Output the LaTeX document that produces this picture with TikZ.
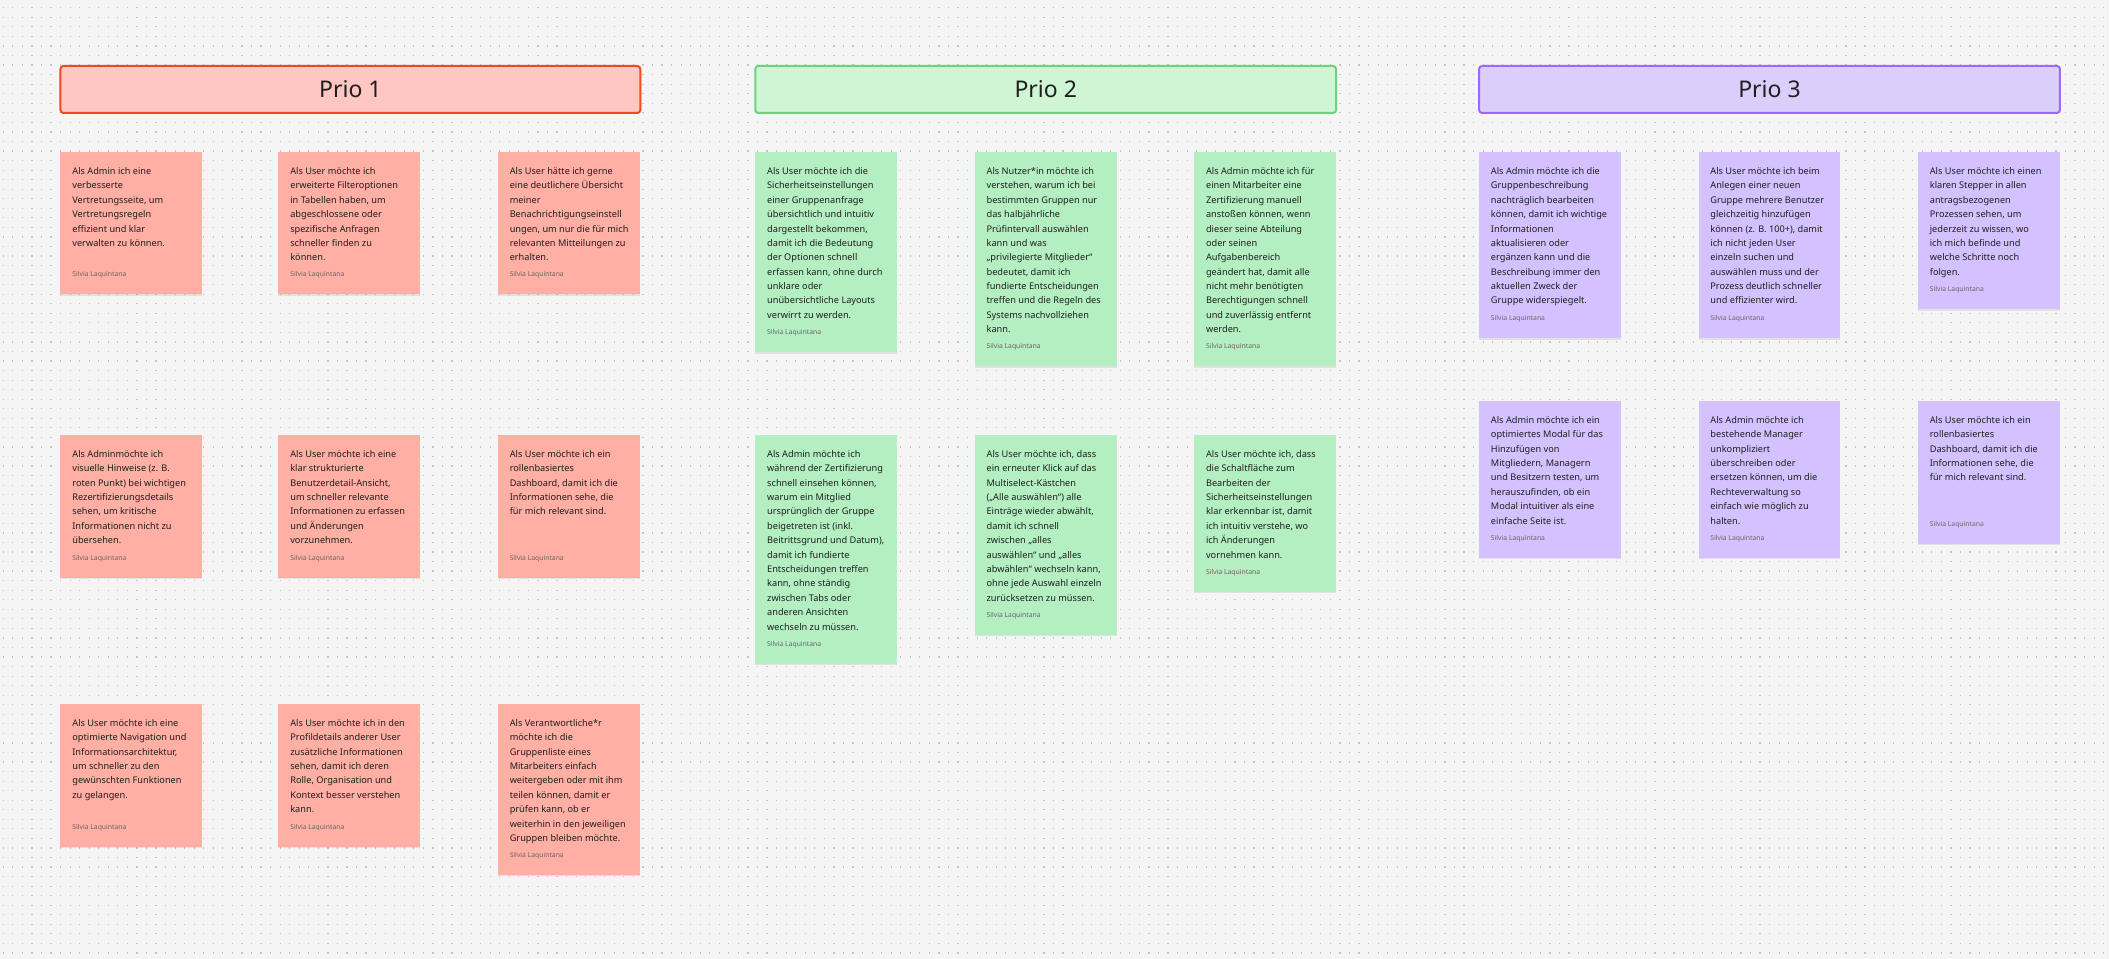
\documentclass[tikz,border=0pt]{standalone}
\usepackage{fontspec}
\setmainfont{Noto Sans}
\usetikzlibrary{shadows}

\definecolor{boardbg}{HTML}{F5F5F5}
\definecolor{boarddot}{HTML}{C4C4C4}
\definecolor{inktext}{HTML}{1E1E1E}
\definecolor{inkauthor}{HTML}{6E6464}
\definecolor{prioredline}{HTML}{F24822}
\definecolor{prioredfill}{HTML}{FFC7C2}
\definecolor{priogreenline}{HTML}{6CD37C}
\definecolor{priogreenfill}{HTML}{CFF5D5}
\definecolor{prioviolaline}{HTML}{9B69FF}
\definecolor{prioviolafill}{HTML}{DBCEFB}
\definecolor{stickyred}{HTML}{FFAFA3}
\definecolor{stickygreen}{HTML}{B3EFC0}
\definecolor{stickyviola}{HTML}{D3C2FF}

\tikzset{
	dotline/.style={boarddot, line width=0.6pt, dash pattern=on 0.6pt off 4.175pt},
	priobox/.style={rounded corners=1.5pt, line width=1pt},
	priotext/.style={inktext, font=\fontsize{11.5pt}{13pt}\selectfont},
	sticky/.style={draw=none, drop shadow={shadow xshift=0pt, shadow yshift=-0.8pt, opacity=0.08, fill=black}},
	redsticky/.style={sticky, fill=stickyred},
	greensticky/.style={sticky, fill=stickygreen},
	violasticky/.style={sticky, fill=stickyviola},
	notetext/.style={anchor=north west, inner sep=0pt, align=left, inktext, font=\fontsize{4.6pt}{7.2pt}\selectfont},
	authortext/.style={anchor=base west, inner sep=0pt, inkauthor, font=\fontsize{3.4pt}{4pt}\selectfont}
}

\begin{document}
\begin{tikzpicture}[x=0.5pt, y=-0.5pt]

	% board with dot grid
	\fill[boardbg] (0,0) rectangle (2110,959);
	\foreach \i in {0,...,99}
		\draw[dotline] (2.7,7.8+9.55*\i) -- (2110,7.8+9.55*\i);

	% headers
	\draw[priobox, draw=prioredline, fill=prioredfill] (60.5,66) rectangle (640.5,113);
	\node[priotext] (prio1) at (350.5,89.5) {Prio 1};
	\draw[priobox, draw=priogreenline, fill=priogreenfill] (755.5,66) rectangle (1336.5,113);
	\node[priotext] (prio2) at (1046,89.5) {Prio 2};
	\draw[priobox, draw=prioviolaline, fill=prioviolafill] (1479.5,66) rectangle (2060.5,113);
	\node[priotext] (prio3) at (1770,89.5) {Prio 3};

	% Prio 1
	\draw[redsticky] (60.5,152) rectangle ++(142,142);
	\node[notetext] (a11) at (72,164) {\strut Als Admin ich eine\\verbesserte\\Vertretungsseite, um\\Vertretungsregeln\\effizient und klar\\verwalten zu können.};
	\node[authortext] (a11s) at (72,277) {Silvia Laquintana};
	\draw[redsticky] (278.5,152) rectangle ++(142,142);
	\node[notetext] (a12) at (290,164) {\strut Als User möchte ich\\erweiterte Filteroptionen\\in Tabellen haben, um\\abgeschlossene oder\\spezifische Anfragen\\schneller finden zu\\können.};
	\node[authortext] (a12s) at (290,277) {Silvia Laquintana};
	\draw[redsticky] (498,152) rectangle ++(142,142);
	\node[notetext] (a13) at (509.5,164) {\strut Als User hätte ich gerne\\eine deutlichere Übersicht\\meiner\\Benachrichtigungseinstell\\ungen, um nur die für mich\\relevanten Mitteilungen zu\\erhalten.};
	\node[authortext] (a13s) at (509.5,277) {Silvia Laquintana};

	\draw[redsticky] (60.5,435) rectangle ++(142,143);
	\node[notetext] (a21) at (72,447) {\strut Als Adminmöchte ich\\visuelle Hinweise (z. B.\\roten Punkt) bei wichtigen\\Rezertifizierungsdetails\\sehen, um kritische\\Informationen nicht zu\\übersehen.};
	\node[authortext] (a21s) at (72,561) {Silvia Laquintana};
	\draw[redsticky] (278.5,435) rectangle ++(142,143);
	\node[notetext] (a22) at (290,447) {\strut Als User möchte ich eine\\klar strukturierte\\Benutzerdetail-Ansicht,\\um schneller relevante\\Informationen zu erfassen\\und Änderungen\\vorzunehmen.};
	\node[authortext] (a22s) at (290,561) {Silvia Laquintana};
	\draw[redsticky] (498,435) rectangle ++(142,143);
	\node[notetext] (a23) at (509.5,447) {\strut Als User möchte ich ein\\rollenbasiertes\\Dashboard, damit ich die\\Informationen sehe, die\\für mich relevant sind.};
	\node[authortext] (a23s) at (509.5,561) {Silvia Laquintana};

	\draw[redsticky] (60.5,704) rectangle ++(142,143);
	\node[notetext] (a31) at (72,716) {\strut Als User möchte ich eine\\optimierte Navigation und\\Informationsarchitektur,\\um schneller zu den\\gewünschten Funktionen\\zu gelangen.};
	\node[authortext] (a31s) at (72,830) {Silvia Laquintana};
	\draw[redsticky] (278.5,704) rectangle ++(142,143);
	\node[notetext] (a32) at (290,716) {\strut Als User möchte ich in den\\Profildetails anderer User\\zusätzliche Informationen\\sehen, damit ich deren\\Rolle, Organisation und\\Kontext besser verstehen\\kann.};
	\node[authortext] (a32s) at (290,830) {Silvia Laquintana};
	\draw[redsticky] (498,704) rectangle ++(142,171);
	\node[notetext] (a33) at (509.5,716) {\strut Als Verantwortliche*r\\möchte ich die\\Gruppenliste eines\\Mitarbeiters einfach\\weitergeben oder mit ihm\\teilen können, damit er\\prüfen kann, ob er\\weiterhin in den jeweiligen\\Gruppen bleiben möchte.};
	\node[authortext] (a33s) at (509.5,858) {Silvia Laquintana};

	% Prio 2
	\draw[greensticky] (755.5,152) rectangle ++(142,200);
	\node[notetext] (b11) at (767,164) {\strut Als User möchte ich die\\Sicherheitseinstellungen\\einer Gruppenanfrage\\übersichtlich und intuitiv\\dargestellt bekommen,\\damit ich die Bedeutung\\der Optionen schnell\\erfassen kann, ohne durch\\unklare oder\\unübersichtliche Layouts\\verwirrt zu werden.};
	\node[authortext] (b11s) at (767,335) {Silvia Laquintana};
	\draw[greensticky] (975,152) rectangle ++(142,214);
	\node[notetext] (b12) at (986.5,164) {\strut Als Nutzer*in möchte ich\\verstehen, warum ich bei\\bestimmten Gruppen nur\\das halbjährliche\\Prüfintervall auswählen\\kann und was\\„privilegierte Mitglieder“\\bedeutet, damit ich\\fundierte Entscheidungen\\treffen und die Regeln des\\Systems nachvollziehen\\kann.};
	\node[authortext] (b12s) at (986.5,349) {Silvia Laquintana};
	\draw[greensticky] (1194.5,152) rectangle ++(142,214);
	\node[notetext] (b13) at (1206,164) {\strut Als Admin möchte ich für\\einen Mitarbeiter eine\\Zertifizierung manuell\\anstoßen können, wenn\\dieser seine Abteilung\\oder seinen\\Aufgabenbereich\\geändert hat, damit alle\\nicht mehr benötigten\\Berechtigungen schnell\\und zuverlässig entfernt\\werden.};
	\node[authortext] (b13s) at (1206,349) {Silvia Laquintana};

	\draw[greensticky] (755.5,435) rectangle ++(142,229);
	\node[notetext] (b21) at (767,447) {\strut Als Admin möchte ich\\während der Zertifizierung\\schnell einsehen können,\\warum ein Mitglied\\ursprünglich der Gruppe\\beigetreten ist (inkl.\\Beitrittsgrund und Datum),\\damit ich fundierte\\Entscheidungen treffen\\kann, ohne ständig\\zwischen Tabs oder\\anderen Ansichten\\wechseln zu müssen.};
	\node[authortext] (b21s) at (767,647) {Silvia Laquintana};
	\draw[greensticky] (975,435) rectangle ++(142,200);
	\node[notetext] (b22) at (986.5,447) {\strut Als User möchte ich, dass\\ein erneuter Klick auf das\\Multiselect-Kästchen\\(„Alle auswählen“) alle\\Einträge wieder abwählt,\\damit ich schnell\\zwischen „alles\\auswählen“ und „alles\\abwählen“ wechseln kann,\\ohne jede Auswahl einzeln\\zurücksetzen zu müssen.};
	\node[authortext] (b22s) at (986.5,618) {Silvia Laquintana};
	\draw[greensticky] (1194.5,435) rectangle ++(142,157);
	\node[notetext] (b23) at (1206,447) {\strut Als User möchte ich, dass\\die Schaltfläche zum\\Bearbeiten der\\Sicherheitseinstellungen\\klar erkennbar ist, damit\\ich intuitiv verstehe, wo\\ich Änderungen\\vornehmen kann.};
	\node[authortext] (b23s) at (1206,575) {Silvia Laquintana};

	% Prio 3
	\draw[violasticky] (1479.5,152) rectangle ++(142,186);
	\node[notetext] (c11) at (1491,164) {\strut Als Admin möchte ich die\\Gruppenbeschreibung\\nachträglich bearbeiten\\können, damit ich wichtige\\Informationen\\aktualisieren oder\\ergänzen kann und die\\Beschreibung immer den\\aktuellen Zweck der\\Gruppe widerspiegelt.};
	\node[authortext] (c11s) at (1491,321) {Silvia Laquintana};
	\draw[violasticky] (1699,152) rectangle ++(142,186);
	\node[notetext] (c12) at (1710.5,164) {\strut Als User möchte ich beim\\Anlegen einer neuen\\Gruppe mehrere Benutzer\\gleichzeitig hinzufügen\\können (z. B. 100+), damit\\ich nicht jeden User\\einzeln suchen und\\auswählen muss und der\\Prozess deutlich schneller\\und effizienter wird.};
	\node[authortext] (c12s) at (1710.5,321) {Silvia Laquintana};
	\draw[violasticky] (1918.5,152) rectangle ++(142,157);
	\node[notetext] (c13) at (1930,164) {\strut Als User möchte ich einen\\klaren Stepper in allen\\antragsbezogenen\\Prozessen sehen, um\\jederzeit zu wissen, wo\\ich mich befinde und\\welche Schritte noch\\folgen.};
	\node[authortext] (c13s) at (1930,292) {Silvia Laquintana};

	\draw[violasticky] (1479.5,401) rectangle ++(142,157);
	\node[notetext] (c21) at (1491,413) {\strut Als Admin möchte ich ein\\optimiertes Modal für das\\Hinzufügen von\\Mitgliedern, Managern\\und Besitzern testen, um\\herauszufinden, ob ein\\Modal intuitiver als eine\\einfache Seite ist.};
	\node[authortext] (c21s) at (1491,541) {Silvia Laquintana};
	\draw[violasticky] (1699,401) rectangle ++(142,157);
	\node[notetext] (c22) at (1710.5,413) {\strut Als Admin möchte ich\\bestehende Manager\\unkompliziert\\überschreiben oder\\ersetzen können, um die\\Rechteverwaltung so\\einfach wie möglich zu\\halten.};
	\node[authortext] (c22s) at (1710.5,541) {Silvia Laquintana};
	\draw[violasticky] (1918.5,401) rectangle ++(142,143);
	\node[notetext] (c23) at (1930,413) {\strut Als User möchte ich ein\\rollenbasiertes\\Dashboard, damit ich die\\Informationen sehe, die\\für mich relevant sind.};
	\node[authortext] (c23s) at (1930,527) {Silvia Laquintana};

\end{tikzpicture}
\end{document}
